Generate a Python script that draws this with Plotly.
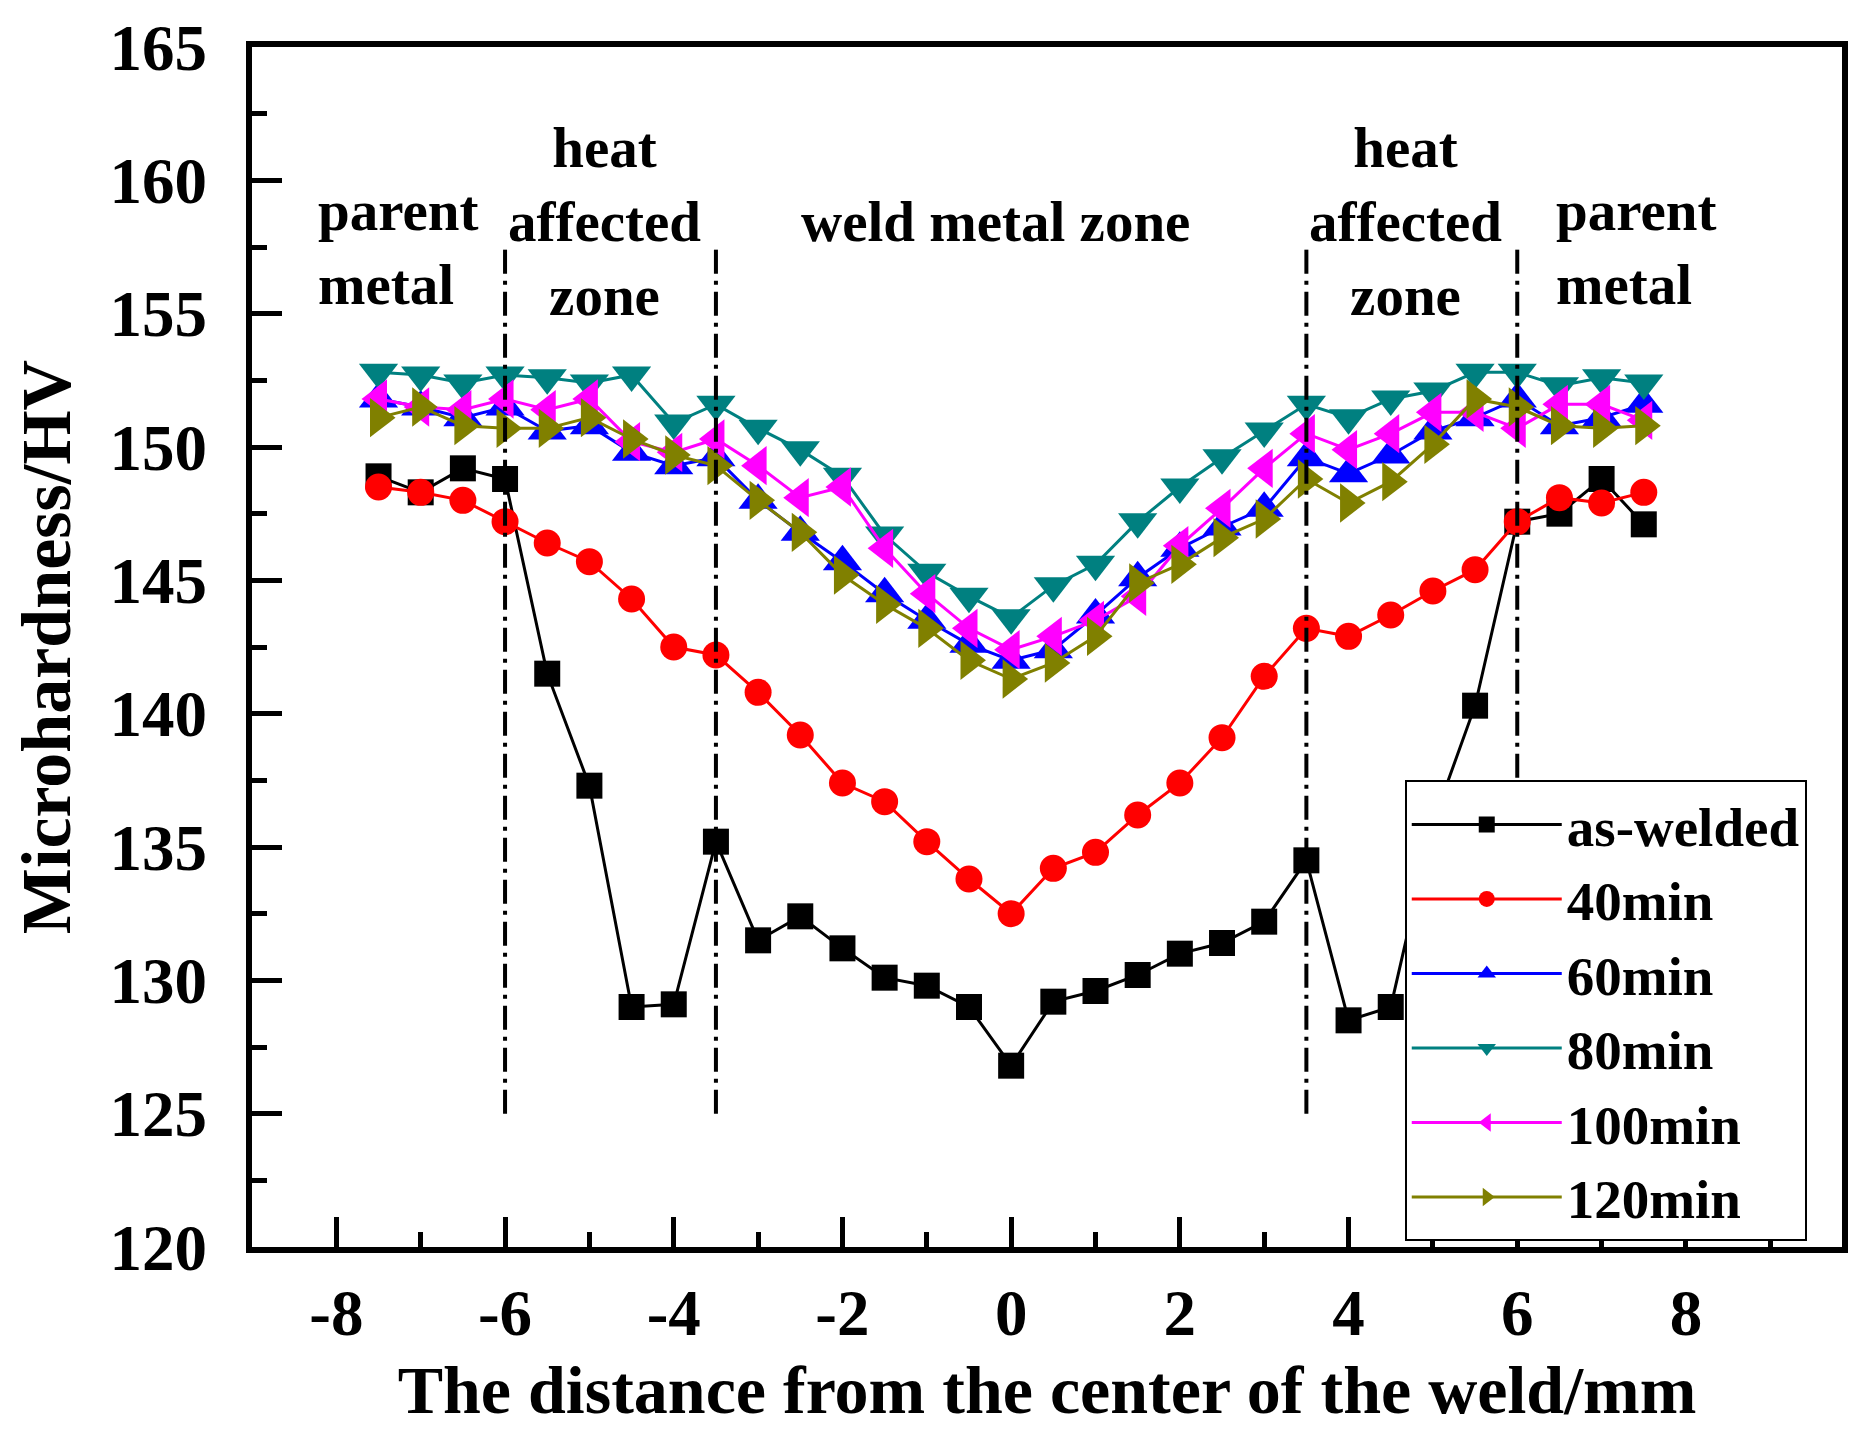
import plotly.graph_objects as go

# distance from weld centre (mm)
distance = [-7.5, -7.0, -6.5, -6.0, -5.5, -5.0, -4.5, -4.0, -3.5, -3.0, -2.5,
            -2.0, -1.5, -1.0, -0.5, 0.0, 0.5, 1.0, 1.5, 2.0, 2.5, 3.0,
            3.5, 4.0, 4.5, 5.0, 5.5, 6.0, 6.5, 7.0, 7.5]

# microhardness (HV) for each condition
as_welded = [148.9, 148.3, 149.2, 148.8, 141.5, 137.3, 129.0, 129.1, 135.2, 131.5, 132.4,
             131.2, 130.1, 129.8, 129.0, 126.8, 129.2, 129.6, 130.2, 131.0, 131.4, 132.2,
             134.5, 128.5, 129.0, 135.9, 140.3, 147.2, 147.5, 148.8, 147.1]
min_40 = [148.5, 148.3, 148.0, 147.2, 146.4, 145.7, 144.3, 142.5, 142.2, 140.8, 139.2,
          137.4, 136.7, 135.2, 133.8, 132.5, 134.2, 134.8, 136.2, 137.4, 139.1, 141.4,
          143.2, 142.9, 143.7, 144.6, 145.4, 147.2, 148.1, 147.9, 148.3]
min_60 = [151.8, 151.5, 151.1, 151.5, 150.6, 150.8, 149.8, 149.3, 149.6, 148.0, 146.8,
          145.7, 144.5, 143.5, 142.6, 142.0, 142.4, 143.7, 145.1, 146.2, 147.0, 147.7,
          149.6, 149.0, 149.7, 150.6, 151.1, 151.8, 150.8, 151.1, 151.6]
min_80 = [152.8, 152.7, 152.4, 152.7, 152.6, 152.4, 152.7, 150.9, 151.6, 150.7, 149.9,
          148.9, 146.7, 145.3, 144.4, 143.6, 144.8, 145.6, 147.2, 148.5, 149.6, 150.6,
          151.6, 151.1, 151.8, 152.1, 152.8, 152.8, 152.3, 152.6, 152.4]
min_100 = [151.8, 151.5, 151.4, 151.8, 151.4, 151.8, 150.2, 149.8, 150.3, 149.3, 148.1,
           148.5, 146.2, 144.5, 143.2, 142.4, 142.9, 143.5, 144.4, 146.3, 147.7, 149.2,
           150.5, 149.9, 150.5, 151.3, 151.3, 150.7, 151.6, 151.6, 151.0]
min_120 = [151.1, 151.5, 150.8, 150.7, 150.7, 151.1, 150.3, 149.7, 149.3, 148.0, 146.8,
           145.2, 144.1, 143.2, 142.0, 141.3, 141.9, 142.9, 144.9, 145.6, 146.6, 147.3,
           148.8, 147.9, 148.7, 150.1, 151.8, 151.5, 150.8, 150.7, 150.8]

series_names = ['as-welded', '40min', '60min', '80min', '100min', '120min']
series_values = [as_welded, min_40, min_60, min_80, min_100, min_120]
series_colors = ['#000000', '#FF0000', '#0000FF', '#008080', '#FF00FF', '#808000']
series_symbols = ['square', 'circle', 'triangle-up', 'triangle-down', 'triangle-left', 'triangle-right']
series_sizes = [26, 27, 34, 34, 34, 34]

# x tick labels (hyphen minus as in the original)
x_tickvals = [-8, -6, -4, -2, 0, 2, 4, 6, 8]
x_ticktext = ['-8', '-6', '-4', '-2', '0', '2', '4', '6', '8']

# zone boundaries (dash-dot lines)
boundary_x = [-6.0, -3.5, 3.5, 6.0]
boundary_y = [125, 157.5]

FONT = 'Times New Roman, Liberation Serif, serif'

fig = go.Figure()

for name, vals, col, sym, sz in zip(series_names, series_values, series_colors,
                                    series_symbols, series_sizes):
    fig.add_trace(go.Scatter(
        x=distance,
        y=vals,
        name=name,
        mode='lines+markers',
        line=dict(color=col, width=3),
        marker=dict(symbol=sym, size=sz, color=col, line=dict(width=0)),
    ))

for bx in boundary_x:
    fig.add_shape(type='line', x0=bx, x1=bx, y0=boundary_y[0], y1=boundary_y[1],
                  xref='x', yref='y',
                  line=dict(color='black', width=4, dash='24px,7px,4px,7px'))

# zone labels
zone_labels = [
    (-8.24, 157.5, 'parent<br>metal', 'left'),
    (-4.82, 158.45, 'heat<br>affected<br>zone', 'center'),
    (-0.18, 158.45, 'weld metal zone', 'center'),
    (4.67, 158.45, 'heat<br>affected<br>zone', 'center'),
    (6.44, 157.5, 'parent<br>metal', 'left'),
]
for lx, ly, txt, al in zone_labels:
    fig.add_annotation(x=lx, y=ly, text=txt, showarrow=False,
                       xanchor='left' if al == 'left' else 'center',
                       yanchor='middle', align=al,
                       font=dict(family=FONT, size=57, color='black', weight='bold'))

fig.update_layout(
    width=1860,
    height=1451,
    margin=dict(l=244, r=26, t=39, b=212),
    plot_bgcolor='white',
    paper_bgcolor='white',
    font=dict(family=FONT, color='black', weight='bold'),
    legend=dict(
        x=0.725, y=0.389, xanchor='left', yanchor='top',
        bgcolor='white', bordercolor='black', borderwidth=2,
        font=dict(family=FONT, size=55, color='black', weight='bold'),
        itemwidth=150, tracegroupgap=0,
    ),
)

fig.update_xaxes(
    range=[-9, 9.85],
    tickmode='array', tickvals=x_tickvals, ticktext=x_ticktext,
    ticks='inside', ticklen=30, tickwidth=5, tickcolor='black',
    minor=dict(ticks='inside', ticklen=15, tickwidth=5, tickcolor='black', dtick=1, tick0=0),
    showline=True, linewidth=6, linecolor='black', mirror=True,
    showgrid=False, zeroline=False,
    tickfont=dict(family=FONT, size=65, color='black', weight='bold'),
    ticklabelstandoff=4,
    title=dict(text='The distance from the center of the weld/mm',
               font=dict(family=FONT, size=68, color='black', weight='bold'),
               standoff=19),
    automargin=False,
)

fig.update_yaxes(
    range=[120, 165],
    tick0=120, dtick=5,
    ticks='inside', ticklen=30, tickwidth=5, tickcolor='black',
    minor=dict(ticks='inside', ticklen=15, tickwidth=5, tickcolor='black', dtick=2.5, tick0=120),
    showline=True, linewidth=6, linecolor='black', mirror=True,
    showgrid=False, zeroline=False,
    tickfont=dict(family=FONT, size=65, color='black', weight='bold'),
    ticklabelstandoff=26,
    title=dict(text='Microhardness/HV',
               font=dict(family=FONT, size=70, color='black', weight='bold'),
               standoff=20),
    automargin=False,
)

fig.write_html("out.html")
